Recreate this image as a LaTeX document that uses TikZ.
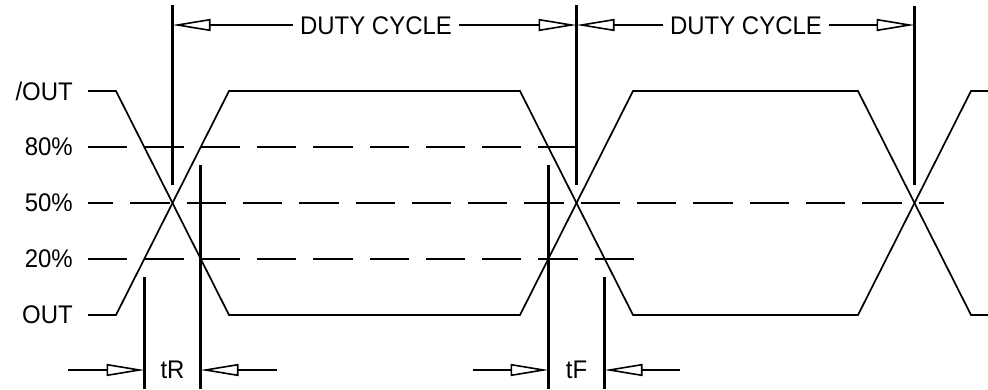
\documentclass[tikz,border=0pt]{standalone}
\usepackage{fontspec}
\setmainfont{Liberation Sans}
\usetikzlibrary{arrows.meta}
\begin{document}
\begin{tikzpicture}[x=1pt,y=-1pt,
  wave/.style={line width=1.7pt, line join=miter},
  level/.style={line width=2.6pt, dash pattern=on 39.3pt off 17pt},
  ext/.style={line width=2.8pt},
  extthin/.style={line width=2.1pt},
  dimline/.style={line width=2.4pt, -{Triangle[open, length=38pt, width=12pt, line width=1.6pt]}},
  lbl/.style={font=\fontsize{25.5}{25.5}\selectfont, inner sep=0pt, xscale=0.94, transform shape},
  dimtxt/.style={font=\fontsize{25.5}{25.5}\selectfont, inner ysep=0pt, inner xsep=7pt, xscale=0.94, transform shape},
]
\useasboundingbox (0,0) rectangle (988,389);

% level labels
\node[lbl, anchor=east] (lH) at (73,91) {/OUT};
\node[lbl, anchor=east] (l80) at (73,147) {80\%};
\node[lbl, anchor=east] (l50) at (73,203) {50\%};
\node[lbl, anchor=east] (l20) at (73,259) {20\%};
\node[lbl, anchor=east] (lL) at (73,315) {OUT};

% waveforms
\draw[wave] (88,91) -- (116,91) -- (229,315) -- (520,315) -- (633,91) -- (858,91) -- (971,315) -- (988,315);
\draw[wave] (88,315) -- (116,315) -- (229,91) -- (520,91) -- (633,315) -- (858,315) -- (971,91) -- (988,91);

% dashed level lines
\coordinate (a80) at (88,147); \coordinate (b80) at (577,147);
\coordinate (a50) at (88,203); \coordinate (b50) at (944,203);
\coordinate (a20) at (88,259); \coordinate (b20) at (634,259);
\draw[level] (a80) -- (b80);
\draw[level, dash phase=14pt] (a50) -- (b50);
\draw[level] (a20) -- (b20);

% duty cycle extension lines
\coordinate (v1t) at (172.5,5); \coordinate (v1b) at (172.5,185);
\coordinate (v2t) at (576.5,5); \coordinate (v2b) at (576.5,185);
\coordinate (v3t) at (914.5,6); \coordinate (v3b) at (914.5,185);
\draw[ext] (v1t) -- (v1b);
\draw[ext] (v2t) -- (v2b);
\draw[ext] (v3t) -- (v3b);

% rise / fall extension lines
\coordinate (r1t) at (144.5,277); \coordinate (r1b) at (144.5,389);
\coordinate (r2t) at (200.5,165); \coordinate (r2b) at (200.5,389);
\coordinate (f1t) at (548.5,165); \coordinate (f1b) at (548.5,389);
\coordinate (f2t) at (604.5,277); \coordinate (f2b) at (604.5,389);
\draw[ext] (r1t) -- (r1b);
\draw[ext] (r2t) -- (r2b);
\draw[extthin] (f1t) -- (f1b);
\draw[extthin] (f2t) -- (f2b);

% duty cycle dimensions
\node[dimtxt] (dc1) at (376,26) {DUTY CYCLE};
\node[dimtxt] (dc2) at (746,26) {DUTY CYCLE};
\draw[dimline] (dc1.west |- 0,25) -- (v1t |- 0,25);
\draw[dimline] (dc1.east |- 0,25) -- (v2t |- 0,25);
\draw[dimline] (dc2.west |- 0,25) -- (v2t |- 0,25);
\draw[dimline] (dc2.east |- 0,25) -- (v3t |- 0,25);

% rise / fall dimensions
\node[lbl] (tr) at (172.5,370) {tR};
\node[lbl] (tf) at (576.5,370) {tF};
\coordinate (trL) at (68,370); \coordinate (trR) at (277,370);
\coordinate (tfL) at (473,370); \coordinate (tfR) at (680,370);
\draw[dimline] (trL) -- (r1t |- trL);
\draw[dimline] (trR) -- (r2t |- trR);
\draw[dimline] (tfL) -- (f1t |- tfL);
\draw[dimline] (tfR) -- (f2t |- tfR);
\end{tikzpicture}
\end{document}
